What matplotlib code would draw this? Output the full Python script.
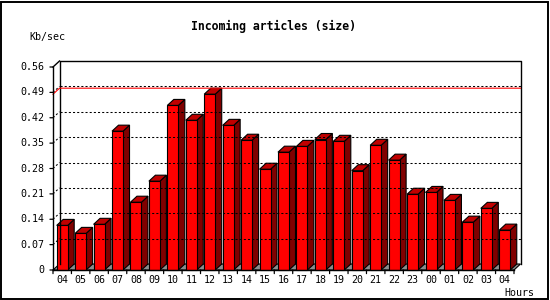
import matplotlib
matplotlib.use('Agg')
import matplotlib.pyplot as plt
from matplotlib import patches

# data
hours = ['04', '05', '06', '07', '08', '09', '10', '11', '12', '13', '14', '15', '16',
         '17', '18', '19', '20', '21', '22', '23', '00', '01', '02', '03', '04']
kbsec = [0.123, 0.101, 0.126, 0.383, 0.187, 0.245, 0.454, 0.413, 0.485, 0.399, 0.358, 0.278, 0.325,
         0.341, 0.360, 0.355, 0.274, 0.344, 0.303, 0.209, 0.214, 0.192, 0.132, 0.170, 0.110]
yticks = [0, 0.07, 0.14, 0.21, 0.28, 0.35, 0.42, 0.49, 0.56]
ymax = 0.56

W, H = 550, 300
n = len(kbsec)
slot = (514 - 53) / n          # pixels per hour slot
vscale = (270 - 67) / ymax     # pixels per Kb/sec
dx = 6.5 / slot                # depth offset, x units
dy = 6.0 / vscale              # depth offset, y units

fig = plt.figure(figsize=(W / 100, H / 100), dpi=100)
ax = fig.add_axes([53 / W, 30 / H, 467.5 / W, 209 / H])
ax.set_xlim(0, 467.5 / slot)
ax.set_ylim(0, 209 / vscale)
ax.axis('off')

mono = 'DejaVu Sans Mono'
dot = (0, (2, 2))

# floor
floor = patches.Polygon([(0, 0), (n, 0), (n + dx, dy), (dx, dy)], closed=True,
                        facecolor='#8c8c8c', edgecolor='black', lw=0.8, clip_on=False)
ax.add_patch(floor)

# back wall grid
for v in yticks[1:-1]:
    ax.plot([dx, n + dx], [v + dy, v + dy], color='black', lw=0.75, ls=dot, clip_on=False)
    ax.plot([0, dx], [v, v + dy], color='black', lw=0.75, ls=dot, clip_on=False)

# wall outline
ax.plot([dx, dx, n + dx, n + dx], [dy, ymax + dy, ymax + dy, dy], color='black', lw=1, clip_on=False)
ax.plot([0, dx], [ymax, ymax + dy], color='black', lw=1, clip_on=False)

# max line
peak = max(kbsec)
ax.plot([0, dx, n + dx], [peak, peak + dy, peak + dy], color='#ff0000', lw=0.8, clip_on=False)

# bars
bw = 11 / slot
off = 3.7 / slot
for i, v in enumerate(kbsec):
    x0 = i + off
    x1 = x0 + bw
    front = patches.Rectangle((x0, 0), bw, v, facecolor='#ff0000', edgecolor='black', lw=0.8, clip_on=False)
    side = patches.Polygon([(x1, 0), (x1 + dx, dy), (x1 + dx, v + dy), (x1, v)], closed=True,
                           facecolor='#800000', edgecolor='black', lw=0.8, clip_on=False)
    top = patches.Polygon([(x0, v), (x1, v), (x1 + dx, v + dy), (x0 + dx, v + dy)], closed=True,
                          facecolor='#c00000', edgecolor='black', lw=0.8, clip_on=False)
    ax.add_patch(side)
    ax.add_patch(top)
    ax.add_patch(front)

# front axes
ax.plot([0, 0], [0, ymax], color='black', lw=1, clip_on=False)
ax.plot([0, n], [0, 0], color='black', lw=1, clip_on=False)
for v in yticks:
    ax.annotate('', xy=(0, v), xytext=(-2.2, 0), textcoords='offset points',
                arrowprops=dict(arrowstyle='-', lw=0.9, color='black', shrinkA=0, shrinkB=0))
    ax.annotate('%g' % v if v else '0', xy=(0, v), xytext=(-6, 0), textcoords='offset points',
                ha='right', va='center', fontsize=7.2, family=mono)
for i in range(n + 1):
    ax.annotate('', xy=(i, 0), xytext=(0, -2.6), textcoords='offset points',
                arrowprops=dict(arrowstyle='-', lw=0.9, color='black', shrinkA=0, shrinkB=0))
for i, h in enumerate(hours):
    ax.annotate(h, xy=(i + 0.5, 0), xytext=(0, -7.2), textcoords='offset points',
                ha='center', va='center', fontsize=7.2, family=mono)

fig.text(273.7 / W, 1 - 26.7 / H, 'Incoming articles (size)', ha='center', va='center',
         fontsize=8.3, family=mono, weight='bold')
fig.text(29 / W, 1 - 36.7 / H, 'Kb/sec', ha='left', va='center', fontsize=7.2, family=mono)
fig.text(534 / W, 1 - 292.7 / H, 'Hours', ha='right', va='center', fontsize=7.2, family=mono)

# image border
fig.patches.append(patches.Rectangle((1 / W, 1.5 / H), 547 / W, 297 / H, transform=fig.transFigure,
                                     fill=False, edgecolor='black', lw=1.4))

fig.savefig('out.png', dpi=100)
